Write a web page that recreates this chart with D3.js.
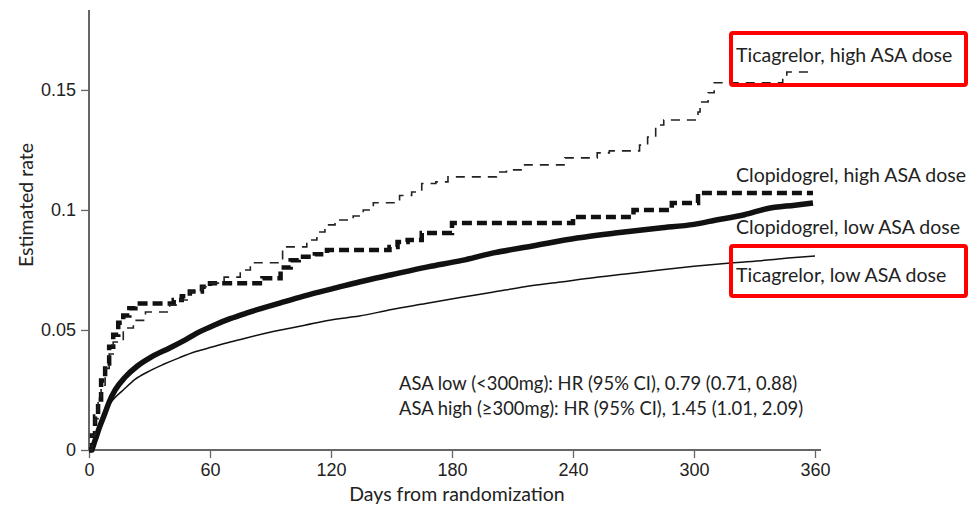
<!DOCTYPE html>
<html>
<head>
<meta charset="utf-8">
<script src="https://cdn.jsdelivr.net/npm/d3@7"></script>
<style>
  html, body { margin: 0; padding: 0; background: #fff; }
  svg { display: block; font-family: Lato, "Noto Sans", sans-serif; }
</style>
</head>
<body>
<svg id="chart" width="969" height="508"></svg>
<script>
// ---- data (days from randomization, estimated rate) ----
const xTicks = [0, 60, 120, 180, 240, 300, 360];
const yTicks = [0, 0.05, 0.1, 0.15];
const yTickLabels = ['0', '0.05', '0.1', '0.15'];

// Ticagrelor, high ASA dose (thin dashed, step)
const ticaHigh = [
  [0,0],[1.5,0.006],[3,0.013],[4.5,0.02],[6,0.027],[8,0.034],[10,0.04],[12,0.045],
  [17,0.0508],[22,0.054],[28,0.0575],[40,0.0604],[44,0.0625],[50,0.066],[56,0.068],
  [60,0.0695],[67,0.072],[75,0.075],[80,0.078],[96,0.0846],[108,0.0875],[113,0.0908],
  [117,0.0938],[122,0.0958],[131,0.0975],[136,0.1],[141,0.103],[154,0.106],[160,0.1075],
  [165,0.111],[172,0.1117],[178,0.1138],[202,0.1158],[207,0.1167],[215,0.1188],
  [236,0.1217],[252,0.1238],[258,0.1246],[273,0.127],[277,0.1304],[281,0.1354],
  [285,0.1375],[302,0.1408],[303,0.145],[307,0.1488],[310,0.153],[344,0.1554],
  [346,0.1575],[358,0.1575]
];

// Clopidogrel, high ASA dose (thick dashed, step)
const clopHigh = [
  [0,0],[1.5,0.006],[3,0.014],[4.5,0.021],[6,0.029],[8,0.036],[10,0.043],[12,0.048],
  [14.5,0.053],[17,0.056],[20,0.059],[23,0.061],[42,0.0625],[46,0.064],[50,0.066],
  [56,0.068],[60,0.0695],[86,0.0715],[95,0.076],[100,0.079],[104,0.0805],[112,0.0815],
  [118,0.0833],[149,0.0846],[153,0.0866],[158,0.0875],[165,0.0904],[180,0.0946],
  [240,0.0971],[270,0.1],[289,0.1029],[302,0.1071],[359,0.1071]
];

// Clopidogrel, low ASA dose (thick solid)
const clopLow = [
  [0,0],[1,0],[3,0.004],[5,0.009],[8,0.0155],[10,0.02],[13,0.025],[18,0.0304],
  [24,0.035],[31,0.0388],[40,0.0425],[48,0.046],[55,0.0493],[62,0.052],[70,0.0547],
  [78,0.057],[95,0.0613],[106,0.064],[114,0.0658],[120,0.067],[134,0.07],[150,0.073],
  [168,0.0763],[185,0.079],[200,0.082],[220,0.085],[242,0.0883],[262,0.0905],
  [283,0.0925],[300,0.094],[311,0.0958],[325,0.098],[336,0.1005],[350,0.102],[359,0.1029]
];

// Ticagrelor, low ASA dose (thin solid)
const ticaLow = [
  [0,0],[1,0],[3,0.003],[5,0.009],[8,0.016],[12,0.021],[17,0.025],[23,0.0295],
  [29,0.0325],[37,0.0357],[45,0.0385],[53,0.041],[61,0.0429],[70,0.045],[78,0.0467],
  [87,0.0485],[95,0.05],[107,0.052],[120,0.0542],[134,0.0558],[150,0.0585],[167,0.061],
  [184,0.0635],[200,0.0657],[216,0.068],[234,0.07],[250,0.0718],[266,0.0733],
  [283,0.075],[300,0.0765],[318,0.0779],[335,0.079],[350,0.0802],[360,0.0808]
];

const seriesLabels = [
  'Ticagrelor, high ASA dose',
  'Clopidogrel, high ASA dose',
  'Clopidogrel, low ASA dose',
  'Ticagrelor, low ASA dose'
];
const noteLines = [
  'ASA low (<300mg): HR (95% CI), 0.79 (0.71, 0.88)',
  'ASA high (\u2265300mg): HR (95% CI), 1.45 (1.01, 2.09)'
];

// ---- layout ----
const svg = d3.select('#chart');
const x = d3.scaleLinear([0, 360], [89, 815]);
const y = d3.scaleLinear([0, 0.1833], [450, 10]);
const AXIS = '#666', TXT = '#222';

// axes
const gx = svg.append('g').attr('transform', 'translate(0,450)')
  .call(d3.axisBottom(x).tickValues(xTicks).tickSize(8).tickSizeOuter(0).tickPadding(5));
gx.select('.domain').remove();
gx.selectAll('line').attr('stroke', AXIS).attr('stroke-width', 1.3);
gx.selectAll('text').attr('fill', TXT).attr('font-size', 18).attr('font-family', null);

const gy = svg.append('g').attr('transform', 'translate(89,0)')
  .call(d3.axisLeft(y).tickValues(yTicks).tickFormat((d, i) => yTickLabels[i])
    .tickSize(8).tickSizeOuter(0).tickPadding(5));
gy.select('.domain').remove();
gy.selectAll('line').attr('stroke', AXIS).attr('stroke-width', 1.3);
gy.selectAll('text').attr('fill', TXT).attr('font-size', 18).attr('font-family', null);

svg.append('line').attr('x1', 89).attr('x2', 821).attr('y1', 450).attr('y2', 450)
  .attr('stroke', AXIS).attr('stroke-width', 2);
svg.append('line').attr('x1', 89).attr('x2', 89).attr('y1', 10).attr('y2', 450)
  .attr('stroke', AXIS).attr('stroke-width', 2);

svg.append('text').attr('x', 457).attr('y', 501).attr('text-anchor', 'middle')
  .attr('fill', TXT).attr('font-size', 19.5).text('Days from randomization');
svg.append('text').attr('transform', 'translate(33,205) rotate(-90)')
  .attr('text-anchor', 'middle').attr('fill', TXT).attr('font-size', 19.5)
  .text('Estimated rate');

// curves
const stepLine = d3.line().x(d => x(d[0])).y(d => y(d[1])).curve(d3.curveStepAfter);
const smoothLine = d3.line().x(d => x(d[0])).y(d => y(d[1])).curve(d3.curveMonotoneX);

svg.append('path').datum(ticaLow).attr('d', smoothLine)
  .attr('fill', 'none').attr('stroke', '#111').attr('stroke-width', 1.5);
svg.append('path').datum(clopLow).attr('d', smoothLine)
  .attr('fill', 'none').attr('stroke', '#111').attr('stroke-width', 5.5)
  .attr('stroke-linejoin', 'round');
svg.append('path').datum(clopHigh).attr('d', stepLine)
  .attr('fill', 'none').attr('stroke', '#111').attr('stroke-width', 4.5)
  .attr('stroke-dasharray', '10 5');
svg.append('path').datum(ticaHigh).attr('d', stepLine)
  .attr('fill', 'none').attr('stroke', '#222').attr('stroke-width', 1.6)
  .attr('stroke-dasharray', '9 7');

// labels on the right
const labelY = [62, 182, 234, 282];
svg.append('g').selectAll('text').data(seriesLabels).join('text')
  .attr('x', 736).attr('y', (d, i) => labelY[i])
  .attr('fill', TXT).attr('font-size', 19.5).text(d => d);

// red highlight boxes
[[33, 85], [246, 296]].forEach(([t, b]) => {
  svg.append('rect').attr('x', 731).attr('y', t).attr('width', 235).attr('height', b - t)
    .attr('rx', 2).attr('fill', 'none').attr('stroke', '#ff0000').attr('stroke-width', 4);
});

// hazard ratio note
svg.append('g').selectAll('text').data(noteLines).join('text')
  .attr('x', 399).attr('y', (d, i) => 390 + i * 25)
  .attr('fill', TXT).attr('font-size', 18.4).text(d => d);
</script>
</body>
</html>
